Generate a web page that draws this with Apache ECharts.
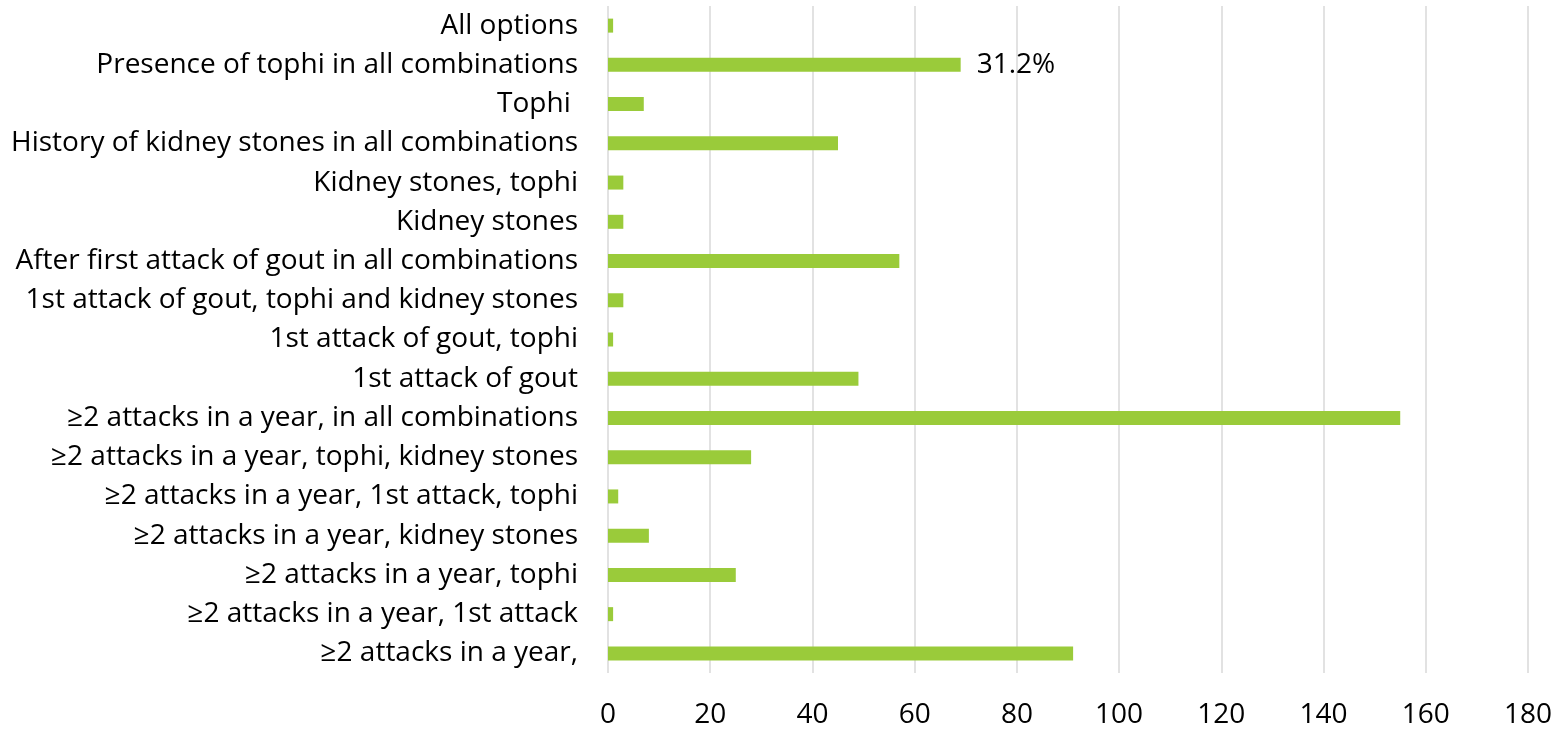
<!DOCTYPE html>
<html>
<head>
<meta charset="utf-8">
<script src="https://cdn.jsdelivr.net/npm/echarts@6/dist/echarts.min.js"></script>
<style>
  html, body { margin: 0; padding: 0; background: #ffffff; }
  #chart { width: 1563px; height: 731px; }
</style>
</head>
<body>
<div id="chart"></div>
<script>
// Indications for urate-lowering therapy, listed top to bottom
const categories = [
  'All options',
  'Presence of tophi in all combinations',
  'Tophi ',
  'History of kidney stones in all combinations',
  'Kidney stones, tophi',
  'Kidney stones',
  'After first attack of gout in all combinations',
  '1st attack of gout, tophi and kidney stones',
  '1st attack of gout, tophi',
  '1st attack of gout',
  '\u22652 attacks in a year, in all combinations',
  '\u22652 attacks in a year, tophi, kidney stones',
  '\u22652 attacks in a year, 1st attack, tophi',
  '\u22652 attacks in a year, kidney stones',
  '\u22652 attacks in a year, tophi',
  '\u22652 attacks in a year, 1st attack',
  '\u22652 attacks in a year,'
];

// Number of respondents per option
const counts = [1, 69, 7, 45, 3, 3, 57, 3, 1, 49, 155, 28, 2, 8, 25, 1, 91];

// Share annotations shown beside selected bars
const shareLabels = ['', '31.2%', '', '', '', '', '', '', '', '', '', '', '', '', '', '', ''];

// Value axis ticks
const xMin = 0;
const xMax = 180;
const xStep = 20;

const FONT = '"Open Sans", "Noto Sans", sans-serif';
const FONT_SIZE = 28;
const TEXT = '#000000';

const chart = echarts.init(document.getElementById('chart'), null, { renderer: 'canvas' });

chart.setOption({
  animation: false,
  backgroundColor: '#ffffff',
  grid: { left: 608, right: 35, top: 6, bottom: 58, containLabel: false },
  xAxis: {
    type: 'value',
    min: xMin,
    max: xMax,
    interval: xStep,
    axisLine: { show: false },
    axisTick: { show: false },
    splitLine: { show: true, lineStyle: { color: '#d9d9d9', width: 1.5 } },
    axisLabel: { color: TEXT, fontFamily: FONT, fontSize: FONT_SIZE, margin: 28 }
  },
  yAxis: {
    type: 'category',
    data: categories,
    inverse: true,
    axisLine: { show: false },
    axisTick: { show: false },
    splitLine: { show: false },
    axisLabel: { color: TEXT, fontFamily: FONT, fontSize: FONT_SIZE, margin: 30, interval: 0 }
  },
  series: [{
    type: 'bar',
    data: counts,
    barWidth: 14,
    itemStyle: { color: '#9acb3a' },
    label: {
      show: true,
      position: 'right',
      distance: 16,
      color: TEXT,
      fontFamily: FONT,
      fontSize: FONT_SIZE,
      formatter: p => shareLabels[p.dataIndex]
    }
  }]
});
</script>
</body>
</html>
